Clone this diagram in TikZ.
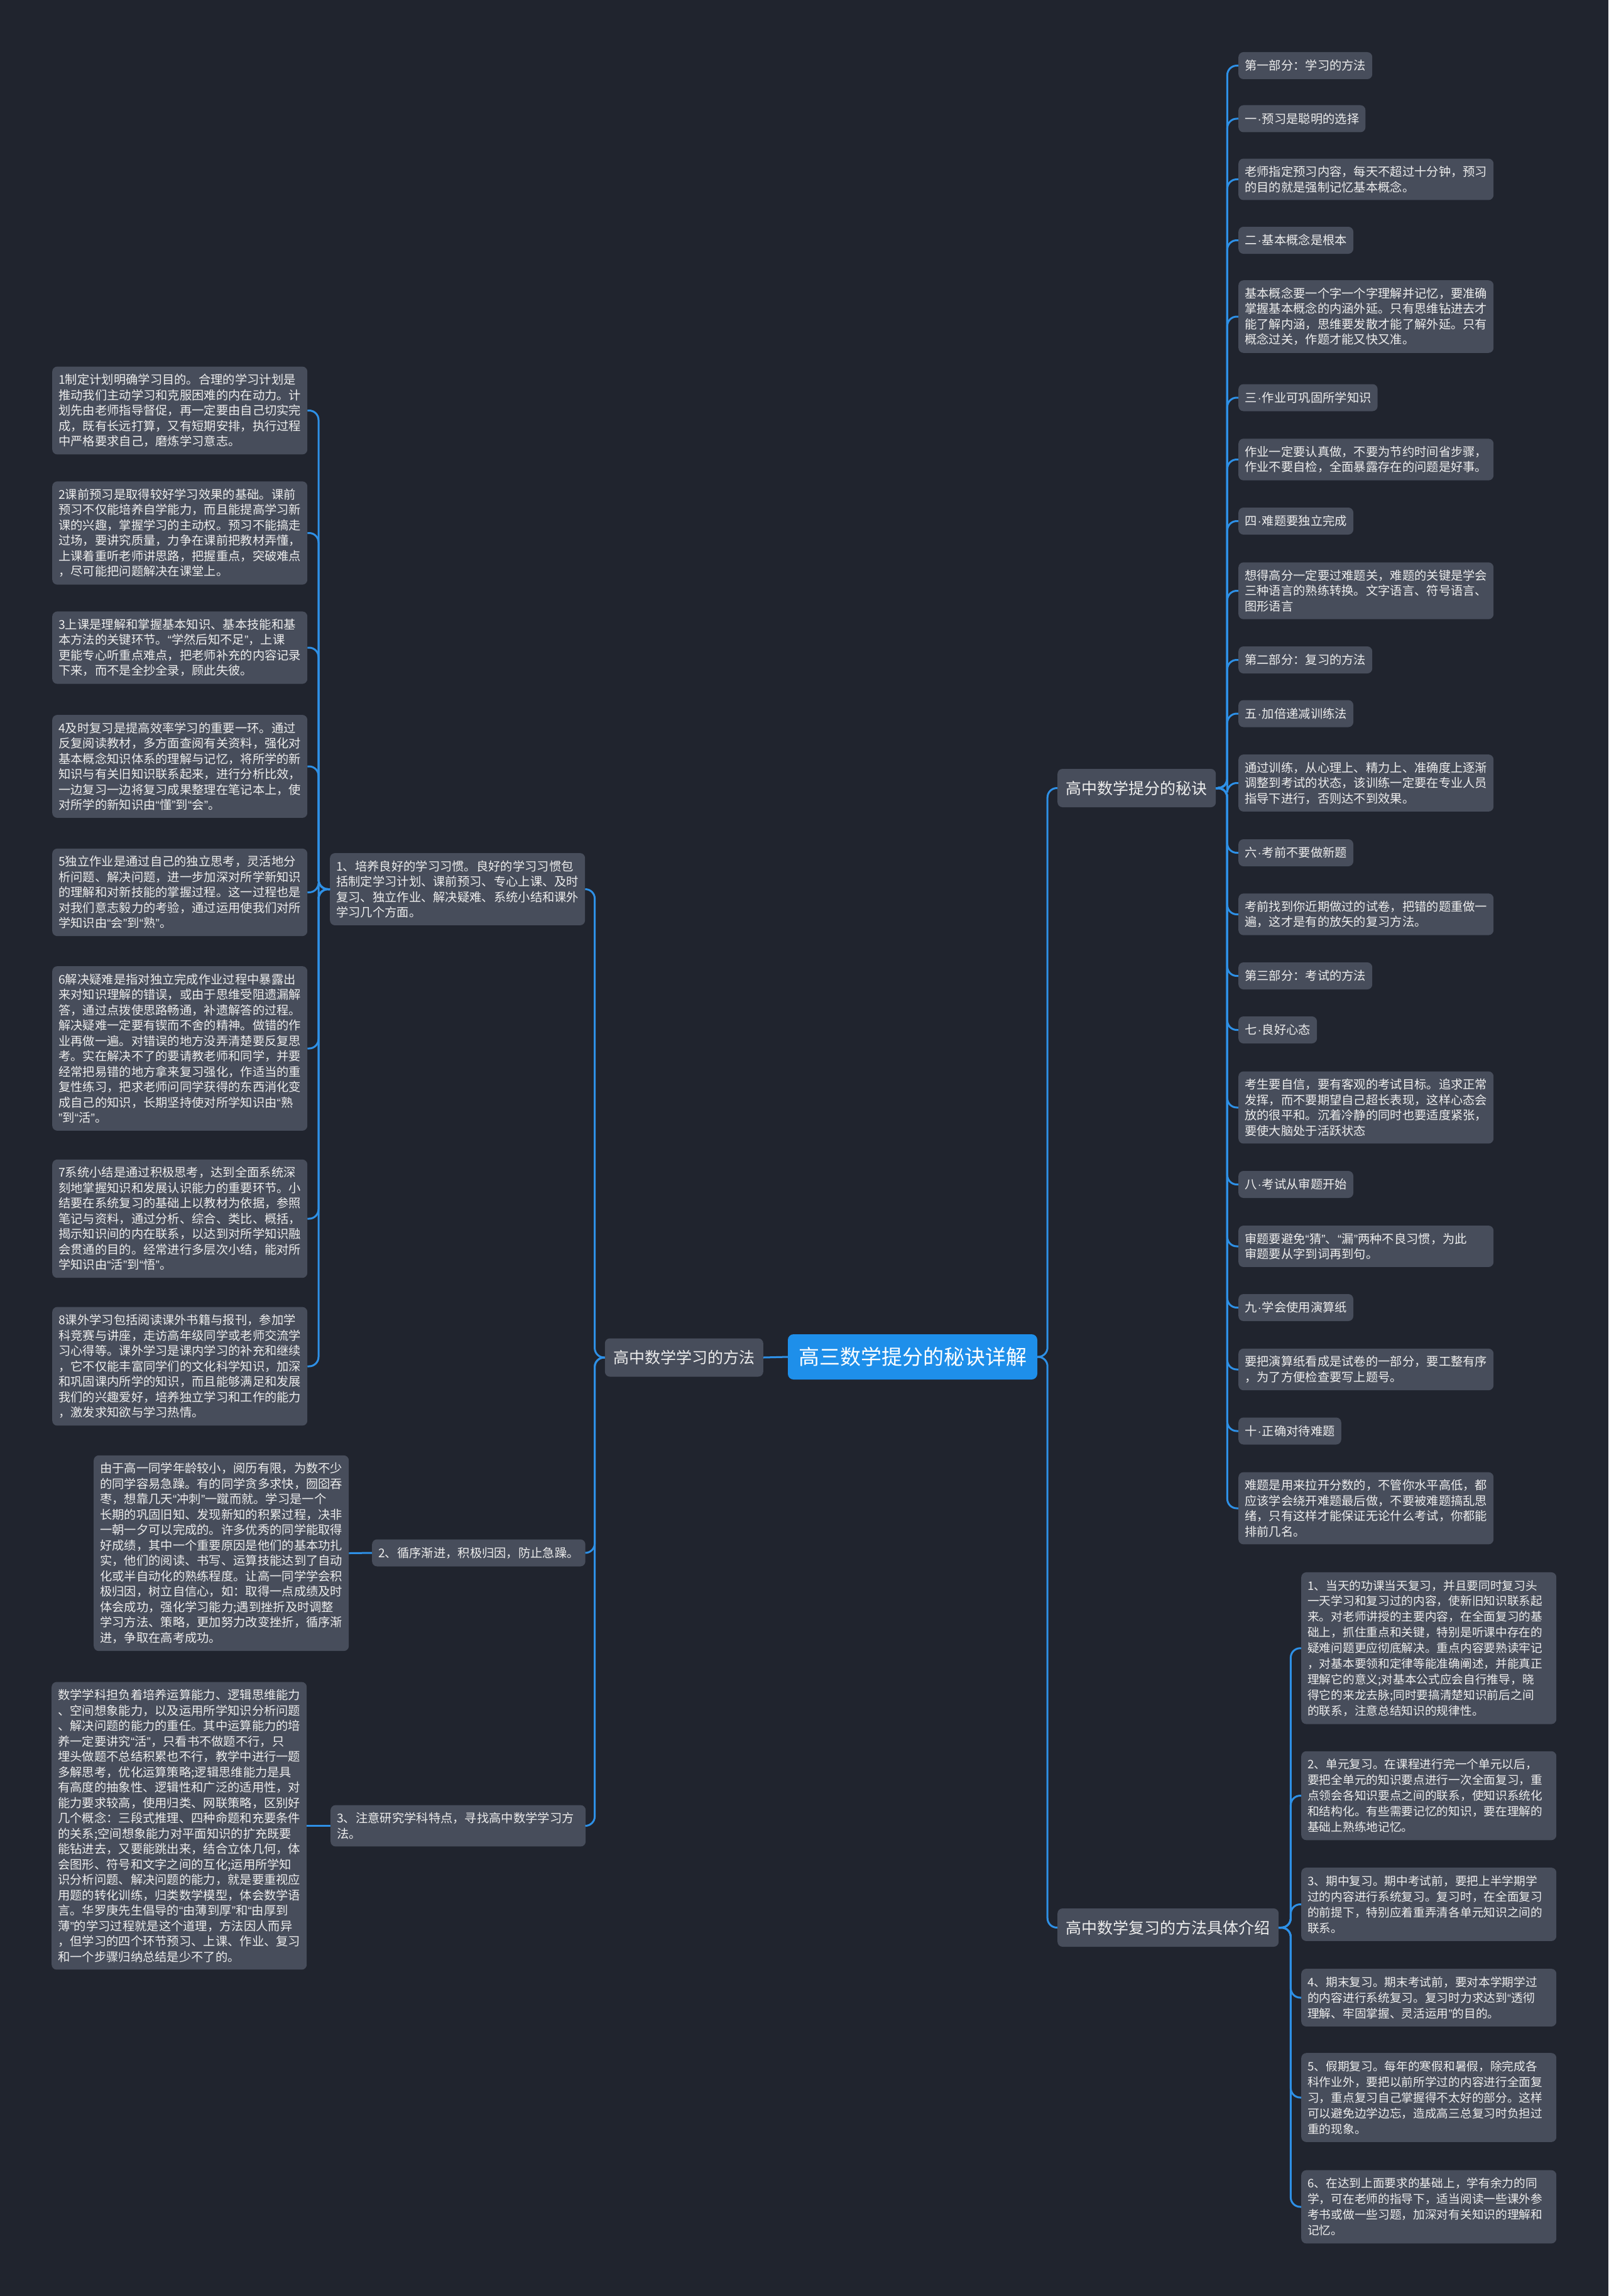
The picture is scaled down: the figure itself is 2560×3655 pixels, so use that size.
\documentclass[tikz,border=0pt]{standalone}
\usepackage{fontspec}
\usepackage{newunicodechar}
\setmainfont{Noto Sans CJK SC}
\newfontfamily\latinfont{Liberation Sans}
\newunicodechar{“}{{\latinfont\symbol{"201C}}}
\newunicodechar{”}{{\latinfont\symbol{"201D}}}
\newcommand\mydot{{\latinfont\kern1pt\symbol{"00B7}\kern1pt}}
\definecolor{bg}{HTML}{20242E}
\definecolor{nodefill}{HTML}{474D5B}
\definecolor{txt}{HTML}{EDEDED}
\definecolor{link}{HTML}{2E90E6}
\definecolor{rootfill}{HTML}{1E8FEA}
\begin{document}
\begin{tikzpicture}[x=1pt,y=-1pt,
  box/.style={fill=nodefill, rounded corners=8pt, text=txt, font=\fontsize{19.3}{24.5}\selectfont, inner xsep=10pt, inner ysep=11.7pt, anchor=west},
  leaf/.style={box, text width=386pt, align=left},
  tag/.style={box, minimum height=43pt},
  bleaf/.style={leaf, font=\fontsize{18.7}{24.9}\selectfont, inner ysep=12.3pt},
  main/.style={fill=nodefill, rounded corners=8pt, text=txt, font=\fontsize{25}{30}\selectfont, inner xsep=13.5pt, inner ysep=4pt, minimum height=61pt},
  root/.style={fill=rootfill, rounded corners=9pt, text=white, font=\fontsize{33}{40}\selectfont, inner xsep=17pt, minimum height=72pt, minimum width=397pt},
  conn/.style={draw=link, line width=3pt, rounded corners=15pt}
]
\fill[bg] (0,0) rectangle (2560,3655);
\useasboundingbox (0,0) rectangle (2560,3655);

% root and main branches
\node[root] (c) at (1452.5,2160) {高三数学提分的秘诀详解};
\node[main, anchor=west] (A) at (1683,1254.5) {高中数学提分的秘诀};
\node[main, anchor=west] (B) at (1683,3068.5) {高中数学复习的方法具体介绍};
\node[main, anchor=east] (C) at (1215,2161) {高中数学学习的方法};

% right column
\node[tag] (r1) at (1971,104.5) {第一部分：学习的方法};
\node[tag] (r2) at (1971,189) {一\mydot 预习是聪明的选择};
\node[leaf] (r3) at (1971,285.5) {老师指定预习内容，每天不超过十分钟，预习\\的目的就是强制记忆基本概念。};
\node[tag] (r4) at (1971,382.5) {二\mydot 基本概念是根本};
\node[leaf] (r5) at (1971,504) {基本概念要一个字一个字理解并记忆，要准确\\掌握基本概念的内涵外延。只有思维钻进去才\\能了解内涵，思维要发散才能了解外延。只有\\概念过关，作题才能又快又准。};
\node[tag] (r6) at (1971,633) {三\mydot 作业可巩固所学知识};
\node[leaf] (r7) at (1971,731.5) {作业一定要认真做，不要为节约时间省步骤，\\作业不要自检，全面暴露存在的问题是好事。};
\node[tag] (r8) at (1971,829.5) {四\mydot 难题要独立完成};
\node[leaf] (r9) at (1971,940.5) {想得高分一定要过难题关，难题的关键是学会\\三种语言的熟练转换。文字语言、符号语言、\\图形语言};
\node[tag] (r10) at (1971,1050.5) {第二部分：复习的方法};
\node[tag] (r11) at (1971,1136) {五\mydot 加倍递减训练法};
\node[leaf] (r12) at (1971,1246.5) {通过训练，从心理上、精力上、准确度上逐渐\\调整到考试的状态，该训练一定要在专业人员\\指导下进行，否则达不到效果。};
\node[tag] (r13) at (1971,1357.5) {六\mydot 考前不要做新题};
\node[leaf] (r14) at (1971,1455.5) {考前找到你近期做过的试卷，把错的题重做一\\遍，这才是有的放矢的复习方法。};
\node[tag] (r15) at (1971,1553.5) {第三部分：考试的方法};
\node[tag] (r16) at (1971,1639.5) {七\mydot 良好心态};
\node[leaf] (r17) at (1971,1763) {考生要自信，要有客观的考试目标。追求正常\\发挥，而不要期望自己超长表现，这样心态会\\放的很平和。沉着冷静的同时也要适度紧张，\\要使大脑处于活跃状态};
\node[tag] (r18) at (1971,1885.5) {八\mydot 考试从审题开始};
\node[leaf] (r19) at (1971,1984) {审题要避免“猜”、“漏”两种不良习惯，为此\\审题要从字到词再到句。};
\node[tag] (r20) at (1971,2081.5) {九\mydot 学会使用演算纸};
\node[leaf] (r21) at (1971,2180) {要把演算纸看成是试卷的一部分，要工整有序\\，为了方便检查要写上题号。};
\node[tag] (r22) at (1971,2278) {十\mydot 正确对待难题};
\node[leaf] (r23) at (1971,2401) {难题是用来拉开分数的，不管你水平高低，都\\应该学会绕开难题最后做，不要被难题搞乱思\\绪，只有这样才能保证无论什么考试，你都能\\排前几名。};

% bottom right
\node[bleaf] (b1) at (2071,2623.75) {1、当天的功课当天复习，并且要同时复习头\\一天学习和复习过的内容，使新旧知识联系起\\来。对老师讲授的主要内容，在全面复习的基\\础上，抓住重点和关键，特别是听课中存在的\\疑难问题更应彻底解决。重点内容要熟读牢记\\，对基本要领和定律等能准确阐述，并能真正\\理解它的意义;对基本公式应会自行推导，晓\\得它的来龙去脉;同时要搞清楚知识前后之间\\的联系，注意总结知识的规律性。};
\node[bleaf] (b2) at (2071,2858.5) {2、单元复习。在课程进行完一个单元以后，\\要把全单元的知识要点进行一次全面复习，重\\点领会各知识要点之间的联系，使知识系统化\\和结构化。有些需要记忆的知识，要在理解的\\基础上熟练地记忆。};
\node[bleaf] (b3) at (2071,3031.5) {3、期中复习。期中考试前，要把上半学期学\\过的内容进行系统复习。复习时，在全面复习\\的前提下，特别应着重弄清各单元知识之间的\\联系。};
\node[bleaf] (b4) at (2071,3180) {4、期末复习。期末考试前，要对本学期学过\\的内容进行系统复习。复习时力求达到“透彻\\理解、牢固掌握、灵活运用”的目的。};
\node[bleaf] (b5) at (2071,3339) {5、假期复习。每年的寒假和暑假，除完成各\\科作业外，要把以前所学过的内容进行全面复\\习，重点复习自己掌握得不太好的部分。这样\\可以避免边学边忘，造成高三总复习时负担过\\重的现象。};
\node[bleaf] (b6) at (2071,3513) {6、在达到上面要求的基础上，学有余力的同\\学，可在老师的指导下，适当阅读一些课外参\\考书或做一些习题，加深对有关知识的理解和\\记忆。};

% middle-left
\node[leaf] (m1) at (525,1415.5) {1、培养良好的学习习惯。良好的学习习惯包\\括制定学习计划、课前预习、专心上课、及时\\复习、独立作业、解决疑难、系统小结和课外\\学习几个方面。};
\node[tag] (m2) at (592,2472) {2、循序渐进，积极归因，防止急躁。};
\node[leaf] (m3) at (526,2906.5) {3、注意研究学科特点，寻找高中数学学习方\\法。};

% left leaves
\node[leaf] (l1) at (83,653.5) {1制定计划明确学习目的。合理的学习计划是\\推动我们主动学习和克服困难的内在动力。计\\划先由老师指导督促，再一定要由自己切实完\\成，既有长远打算，又有短期安排，执行过程\\中严格要求自己，磨炼学习意志。};
\node[leaf] (l2) at (83,848.5) {2课前预习是取得较好学习效果的基础。课前\\预习不仅能培养自学能力，而且能提高学习新\\课的兴趣，掌握学习的主动权。预习不能搞走\\过场，要讲究质量，力争在课前把教材弄懂，\\上课着重听老师讲思路，把握重点，突破难点\\，尽可能把问题解决在课堂上。};
\node[leaf] (l3) at (83,1031) {3上课是理解和掌握基本知识、基本技能和基\\本方法的关键环节。“学然后知不足”，上课\\更能专心听重点难点，把老师补充的内容记录\\下来，而不是全抄全录，顾此失彼。};
\node[leaf] (l4) at (83,1220) {4及时复习是提高效率学习的重要一环。通过\\反复阅读教材，多方面查阅有关资料，强化对\\基本概念知识体系的理解与记忆，将所学的新\\知识与有关旧知识联系起来，进行分析比效，\\一边复习一边将复习成果整理在笔记本上，使\\对所学的新知识由“懂”到“会”。};
\node[leaf] (l5) at (83,1420.5) {5独立作业是通过自己的独立思考，灵活地分\\析问题、解决问题，进一步加深对所学新知识\\的理解和对新技能的掌握过程。这一过程也是\\对我们意志毅力的考验，通过运用使我们对所\\学知识由“会”到“熟”。};
\node[leaf] (l6) at (83,1669) {6解决疑难是指对独立完成作业过程中暴露出\\来对知识理解的错误，或由于思维受阻遗漏解\\答，通过点拨使思路畅通，补遗解答的过程。\\解决疑难一定要有锲而不舍的精神。做错的作\\业再做一遍。对错误的地方没弄清楚要反复思\\考。实在解决不了的要请教老师和同学，并要\\经常把易错的地方拿来复习强化，作适当的重\\复性练习，把求老师问同学获得的东西消化变\\成自己的知识，长期坚持使对所学知识由“熟\\”到“活”。};
\node[leaf] (l7) at (83,1940) {7系统小结是通过积极思考，达到全面系统深\\刻地掌握知识和发展认识能力的重要环节。小\\结要在系统复习的基础上以教材为依据，参照\\笔记与资料，通过分析、综合、类比、概括，\\揭示知识间的内在联系，以达到对所学知识融\\会贯通的目的。经常进行多层次小结，能对所\\学知识由“活”到“悟”。};
\node[leaf] (l8) at (83,2175) {8课外学习包括阅读课外书籍与报刊，参加学\\科竞赛与讲座，走访高年级同学或老师交流学\\习心得等。课外学习是课内学习的补充和继续\\，它不仅能丰富同学们的文化科学知识，加深\\和巩固课内所学的知识，而且能够满足和发展\\我们的兴趣爱好，培养独立学习和工作的能力\\，激发求知欲与学习热情。};

\node[leaf] (yu) at (149,2472.5) {由于高一同学年龄较小，阅历有限，为数不少\\的同学容易急躁。有的同学贪多求快，囫囵吞\\枣，想靠几天“冲刺”一蹴而就。学习是一个\\长期的巩固旧知、发现新知的积累过程，决非\\一朝一夕可以完成的。许多优秀的同学能取得\\好成绩，其中一个重要原因是他们的基本功扎\\实，他们的阅读、书写、运算技能达到了自动\\化或半自动化的熟练程度。让高一同学学会积\\极归因，树立自信心，如：取得一点成绩及时\\体会成功，强化学习能力;遇到挫折及时调整\\学习方法、策略，更加努力改变挫折，循序渐\\进，争取在高考成功。};
\node[leaf] (sx) at (82,2906.5) {数学学科担负着培养运算能力、逻辑思维能力\\、空间想象能力，以及运用所学知识分析问题\\、解决问题的能力的重任。其中运算能力的培\\养一定要讲究“活”，只看书不做题不行，只\\埋头做题不总结积累也不行，教学中进行一题\\多解思考，优化运算策略;逻辑思维能力是具\\有高度的抽象性、逻辑性和广泛的适用性，对\\能力要求较高，使用归类、网联策略，区别好\\几个概念：三段式推理、四种命题和充要条件\\的关系;空间想象能力对平面知识的扩充既要\\能钻进去，又要能跳出来，结合立体几何，体\\会图形、符号和文字之间的互化;运用所学知\\识分析问题、解决问题的能力，就是要重视应\\用题的转化训练，归类数学模型，体会数学语\\言。华罗庚先生倡导的“由薄到厚”和“由厚到\\薄”的学习过程就是这个道理，方法因人而异\\，但学习的四个环节预习、上课、作业、复习\\和一个步骤归纳总结是少不了的。};

% connectors
\draw[conn] (c.east) -- ++(16,0) |- (A.west);
\draw[conn] (c.east) -- ++(16,0) |- (B.west);
\draw[conn] (c.west) -- (C.east);
\foreach \i in {1,...,23} \draw[conn] (A.east) -- ++(18,0) |- (r\i.west);
\foreach \i in {1,...,6} \draw[conn] (B.east) -- ++(19,0) |- (b\i.west);
\foreach \n in {m1,m2,m3} \draw[conn] (C.west) -- ++(-16,0) |- (\n.east);
\foreach \i in {1,...,8} \draw[conn] (m1.west) -- ++(-18,0) |- (l\i.east);
\draw[conn] (m2.west) -- (yu.east);
\draw[conn] (m3.west) -- (sx.east);
\end{tikzpicture}
\end{document}
